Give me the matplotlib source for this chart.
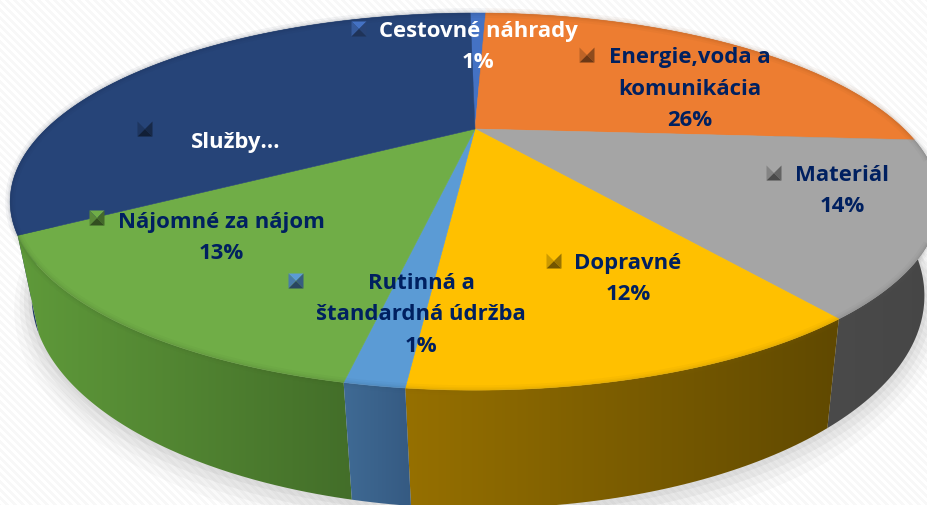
#!/usr/bin/env python3
import numpy as np
import matplotlib
matplotlib.use("Agg")
import matplotlib.pyplot as plt
from matplotlib.colors import LinearSegmentedColormap, to_rgb
from matplotlib.patches import Polygon

plt.rcParams["font.family"] = ["Open Sans", "DejaVu Sans"]

W, H = 927, 506

names = ["Cestovné náhrady", "Energie,voda a\nkomunikácia", "Materiál", "Dopravné",
         "Rutinná a\nštandardná údržba", "Nájomné za nájom", "Služby…"]
values = [0.8, 25.5, 14.05, 11.5, 1.45, 13.1, 33.6]
percents = ["1%", "26%", "14%", "12%", "1%", "13%", ""]

colors = ["#4472c4", "#ed7d31", "#a5a5a5", "#ffc000", "#5b9bd5", "#70ad47", "#264478"]
side_left = ["#2d4f8a", "#a5561f", "#4a4a4a", "#967000", "#3f6a94", "#5f9a3a", "#1f3a66"]
side_right = ["#2d4f8a", "#a5561f", "#464646", "#604900", "#355a82", "#436e29", "#1f3a66"]
text_colors = ["white", "#002060", "#002060", "#002060", "#002060", "#002060", "white"]

text_pos = [(478, 47), (690, 89), (842, 191), (628, 279), (421, 315), (221, 238), (236, 142)]
key_pos = [(359, 30), (587, 56), (774, 174), (554, 262), (296, 282), (97, 219), (145, 130)]

START = -0.9  # degrees clockwise from the back of the pie
K = 0.385
CX = 475


def project(theta, a, b, cy, cx=CX):
    t = np.radians(theta)
    x, y = np.sin(t), -np.cos(t)
    den = 1 - K * y
    return cx + a * x / den, cy + b * y / den


def top(theta):
    return project(theta, 429, 160.6, 130)


def bottom(theta):
    return project(theta, 412, 181, 215, 478)


def shade(color, f):
    return tuple(c * f for c in to_rgb(color))


fig = plt.figure(figsize=(W / 100, H / 100), dpi=100)
ax = fig.add_axes([0, 0, 1, 1])
ax.axis("off")

# striped slide background
yy, xx = np.mgrid[0:H, 0:W]
stripes = ((xx - yy) % 8 < 4) * 0.03 + 0.97
ax.imshow(stripes, cmap="gray", vmin=0, vmax=1, extent=(0, W, H, 0), aspect="auto", zorder=0)

# soft shadow under the pie
th = np.linspace(0, 360, 361)
for grow, al in [(16, 0.03), (11, 0.04), (7, 0.05), (3, 0.06)]:
    sx, sy = project(th, 412 + grow, 181 + grow, 215 + grow * 0.4, 478)
    ax.fill(sx, sy, color="#404040", alpha=al, lw=0, zorder=1)

edges = START + np.concatenate([[0], np.cumsum(values)]) * 3.6
arcs = [np.linspace(edges[i], edges[i + 1], 120) for i in range(len(values))]

# outer wall, back slices first
order = sorted(range(len(values)), key=lambda i: abs((edges[i] + edges[i + 1]) / 2 - 180), reverse=True)
for z, i in enumerate(order):
    tx, ty = top(arcs[i])
    bx, by = bottom(arcs[i])
    pts = np.column_stack([np.r_[tx, bx[::-1]], np.r_[ty, by[::-1]]])
    wall = Polygon(pts, closed=True, fc="none", ec="none", zorder=2 + z * 0.01)
    ax.add_patch(wall)
    cmap = LinearSegmentedColormap.from_list("w", [side_left[i], side_right[i]])
    x0, x1 = pts[:, 0].min(), pts[:, 0].max()
    im = ax.imshow(np.linspace(0, 1, 256)[None, :], cmap=cmap, aspect="auto",
                   extent=(x0, x1, H, 0), zorder=2 + z * 0.01)
    im.set_clip_path(wall)

# top surface
for i in range(len(values)):
    tx, ty = top(arcs[i])
    ax.fill(np.r_[CX, tx], np.r_[130, ty], color=colors[i], lw=0.4, ec=colors[i], zorder=3)
    # bevel along the rim
    for lw, al in [(7, 0.05), (4, 0.06), (2, 0.08)]:
        ax.plot(tx, ty, color=shade(colors[i], 0.55), lw=lw, alpha=al, zorder=3.1,
                solid_capstyle="butt")

# labels with their small bevelled keys
for i in range(len(values)):
    kx, ky = key_pos[i]
    r = 7.5
    c = (kx, ky)
    tl, tr, br, bl = (kx - r, ky - r), (kx + r, ky - r), (kx + r, ky + r), (kx - r, ky + r)
    for tri, f in [((tl, tr), 1.0), ((tl, bl), 0.8), ((tr, br), 0.6), ((bl, br), 0.45)]:
        ax.add_patch(Polygon([tri[0], tri[1], c], closed=True, fc=shade(colors[i], f), ec="none", zorder=4))
    label = names[i] + ("\n" + percents[i] if percents[i] else "")
    ax.text(text_pos[i][0], text_pos[i][1], label, color=text_colors[i], fontsize=15.9, fontweight="bold",
            ha="center", va="center", linespacing=1.68, zorder=5)

ax.set_xlim(0, W)
ax.set_ylim(H, 0)
fig.savefig("out.png", dpi=100)
